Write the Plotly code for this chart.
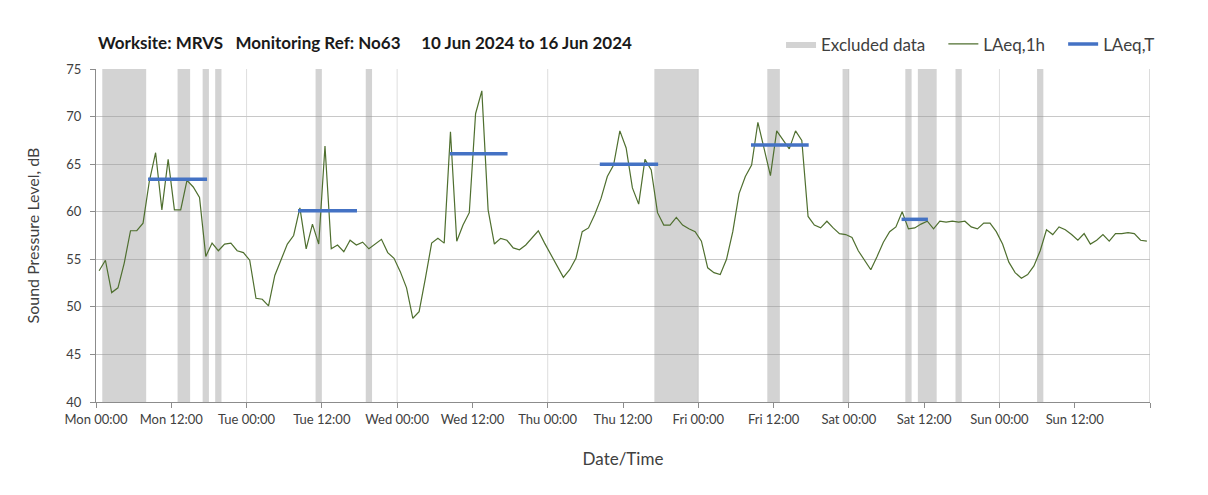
import plotly.graph_objects as go

# ---------------- data ----------------
DAYS = ["Mon", "Tue", "Wed", "Thu", "Fri", "Sat", "Sun"]

# hourly LAeq,1h values (dB), Mon 00:00 .. Sun 23:00
LAEQ_1H = [
    53.8, 54.9, 51.5, 52.0, 54.6, 58.0, 58.0, 58.8, 63.2, 66.2, 60.2, 65.5,
    60.2, 60.2, 63.3, 62.6, 61.5, 55.3, 56.7, 55.9, 56.6, 56.7, 55.9, 55.7,
    54.9, 50.9, 50.8, 50.1, 53.3, 55.0, 56.6, 57.5, 60.4, 56.1, 58.7, 56.6,
    66.9, 56.1, 56.5, 55.8, 57.0, 56.5, 56.8, 56.1, 56.6, 57.1, 55.7, 55.1,
    53.7, 52.0, 48.8, 49.5, 53.0, 56.7, 57.2, 56.7, 68.4, 56.9, 58.6, 59.9,
    70.3, 72.7, 60.2, 56.6, 57.2, 57.0, 56.2, 56.0, 56.5, 57.2, 58.0, 56.7,
    55.5, 54.3, 53.1, 53.9, 55.1, 57.9, 58.3, 59.7, 61.4, 63.7, 64.9, 68.5,
    66.7, 62.5, 60.8, 65.5, 64.4, 59.9, 58.6, 58.6, 59.4, 58.6, 58.2, 57.9,
    56.9, 54.1, 53.6, 53.4, 55.0, 57.9, 61.9, 63.7, 64.9, 69.4, 66.6, 63.8,
    68.5, 67.6, 66.6, 68.5, 67.5, 59.5, 58.6, 58.3, 59.0, 58.3, 57.7, 57.6,
    57.3, 55.9, 54.9, 53.9, 55.3, 56.8, 57.9, 58.4, 60.0, 58.2, 58.3, 58.7,
    59.0, 58.2, 59.0, 58.9, 59.0, 58.9, 59.0, 58.4, 58.2, 58.8, 58.8, 57.9,
    56.6, 54.7, 53.6, 53.0, 53.4, 54.3, 55.9, 58.1, 57.6, 58.4, 58.1, 57.6,
    57.0, 57.7, 56.6, 57.0, 57.6, 56.9, 57.7, 57.7, 57.8, 57.7, 57.0, 56.9,
]

# excluded-data periods (hours since Mon 00:00)
EXCL_START = [1, 13, 17, 19, 35, 43, 89, 107, 119, 129, 131, 137, 150]
EXCL_END = [8, 15, 18, 20, 36, 44, 96, 109, 120, 130, 134, 138, 151]

# LAeq,T periods (hours since Mon 00:00) and levels
LAEQ_T_START = [8.3, 32.2, 56.4, 80.3, 104.4, 128.4]
LAEQ_T_END = [17.7, 41.6, 65.6, 89.6, 113.6, 132.6]
LAEQ_T = [63.4, 60.1, 66.1, 65.0, 67.0, 59.2]

Y_MIN, Y_MAX, Y_STEP = 40, 75, 5
X_TICK_STEP = 12
N_HOURS = 24 * len(DAYS)

FONT = "Lato"
TXT = "#404040"
PAD = "\u00a0\u00a0\u00a0"

# ---------------- build ----------------
hours = [i + 0.5 for i in range(len(LAEQ_1H))]

ex_x, ex_y = [], []
for s, e in zip(EXCL_START, EXCL_END):
    ex_x += [s, s, e, e, s, None]
    ex_y += [Y_MIN, Y_MAX, Y_MAX, Y_MIN, Y_MIN, None]

t_x, t_y = [], []
for s, e, v in zip(LAEQ_T_START, LAEQ_T_END, LAEQ_T):
    t_x += [s, e, None]
    t_y += [v, v, None]

tickvals = list(range(0, N_HOURS + 1, X_TICK_STEP))
ticktext = []
for h in tickvals:
    if h >= N_HOURS:
        ticktext.append("")
    else:
        ticktext.append(f"{DAYS[h // 24]} {h % 24:02d}:00")

fig = go.Figure()
fig.add_trace(go.Scatter(
    x=ex_x, y=ex_y, mode="lines", fill="toself",
    fillcolor="rgba(150,150,150,0.42)", line=dict(width=0),
    name="Excluded data" + PAD, hoverinfo="skip",
))
fig.add_trace(go.Scatter(
    x=hours, y=LAEQ_1H, mode="lines",
    line=dict(color="#4f6f2f", width=1.2), name="LAeq,1h" + PAD,
))
fig.add_trace(go.Scatter(
    x=t_x, y=t_y, mode="lines",
    line=dict(color="#4472C4", width=3.5), name="LAeq,T",
))

shapes = []
for d in range(24, N_HOURS, 24):
    shapes.append(dict(type="line", xref="x", yref="y", x0=d, x1=d,
                       y0=Y_MIN, y1=Y_MAX, layer="below",
                       line=dict(color="#dedede", width=1)))
shapes.append(dict(type="line", xref="x", yref="y", x0=N_HOURS, x1=N_HOURS,
                   y0=Y_MIN, y1=Y_MAX, layer="above",
                   line=dict(color="#b8b8b8", width=1)))
shapes.append(dict(type="line", xref="paper", yref="paper", x0=-0.0865, x1=-0.0865,
                   y0=-0.3, y1=1.25, line=dict(color="#d9d9d9", width=1)))

fig.update_layout(
    width=1200, height=487,
    margin=dict(l=88, r=58, t=61, b=93, autoexpand=False),
    paper_bgcolor="white", plot_bgcolor="white",
    font=dict(family=FONT, size=13, color=TXT),
    shapes=shapes,
    showlegend=True,
    legend=dict(orientation="h", x=1.0095, xanchor="right", y=1.074, yanchor="middle",
                font=dict(size=17, color=TXT), bgcolor="rgba(0,0,0,0)",
                traceorder="normal"),
    annotations=[dict(
        text="<b>Worksite: MRVS\u00a0\u00a0\u00a0Monitoring Ref: No63\u00a0\u00a0\u00a0\u00a0\u00a010 Jun 2024 to 16 Jun 2024</b>",
        xref="paper", yref="paper", x=0, y=1.081, xanchor="left", yanchor="middle",
        showarrow=False, font=dict(size=17, color="#1a1a1a", family=FONT),
    )],
)

fig.update_xaxes(
    range=[0, N_HOURS], tickmode="array", tickvals=tickvals, ticktext=ticktext,
    showgrid=False, zeroline=False, showline=True, linecolor="#8c8c8c", linewidth=1,
    ticks="outside", ticklen=5, tickcolor="#8c8c8c",
    tickfont=dict(size=13, color=TXT), ticklabelstandoff=0,
    title=dict(text="Date/Time", font=dict(size=17, color=TXT), standoff=27),
    automargin=False,
)
fig.update_yaxes(
    range=[Y_MIN, Y_MAX], tickmode="array",
    tickvals=list(range(Y_MIN, Y_MAX + 1, Y_STEP)),
    showgrid=True, gridcolor="#c8c8c8", gridwidth=1, zeroline=False,
    showline=True, linecolor="#8c8c8c", linewidth=1,
    ticks="outside", ticklen=5, tickcolor="#8c8c8c",
    tickfont=dict(size=13, color=TXT), ticklabelstandoff=6,
    title=dict(text="Sound Pressure Level, dB", font=dict(size=16, color=TXT), standoff=22),
    automargin=False,
)

fig.write_html("out.html")
